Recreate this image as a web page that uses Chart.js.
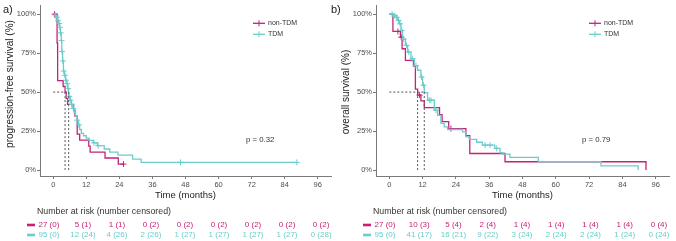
<!DOCTYPE html>
<html><head><meta charset="utf-8">
<script src="https://cdn.jsdelivr.net/npm/chart.js@4"></script>
<style>
html,body{margin:0;padding:0;background:#fff;width:676px;height:241px;overflow:hidden}
#c1{position:absolute;left:0;top:0}
#c2{position:absolute;left:330px;top:0}
</style></head><body>
<canvas id="c1" width="336" height="241"></canvas>
<canvas id="c2" width="346" height="241"></canvas>
<script>
// ---- shared ----
const xTicks = [0, 12, 24, 36, 48, 60, 72, 84, 96];
const yTicks = [0, 25, 50, 75, 100];
const groupNames = ['non-TDM', 'TDM'];

// ---- a) progression-free survival ----
const pfsNonT = [0, 1.4, 1.6, 3.6, 4.3, 4.7, 5.2, 7.4, 7.9, 8.7, 9.6, 12.9, 13.4, 18.8, 23.6, 25.5];
const pfsNonS = [100, 81.5, 57.4, 53.6, 49.8, 46.0, 42.1, 38.3, 34.5, 23.0, 19.2, 15.3, 11.5, 7.7, 3.8, 3.8];
const pfsNonCensT = [0.5, 25.5];
const pfsNonCensS = [100, 3.8];
const pfsTdmT = [0,0.8,1.2,1.6,2.0,2.3,2.6,2.9,3.1,3.4,3.7,4.1,4.5,4.9,5.3,5.6,6.1,6.6,7.1,7.6,8.1,8.6,9.1,9.6,10.2,11.0,12.0,13.0,14.5,16.0,18.5,20.5,23.5,28.8,31.9,88.4];
const pfsTdmS = [100,99,98,96,94,91.5,88,83,76,70,63.5,60.8,57.6,55.4,52.2,47.3,44.8,42,39.5,37,34.5,32,29,26,23.5,22,20.5,19,17.5,15.6,13.5,11.5,9.6,7,4.9,4.9];
const pfsTdmCensT = [0.9,1.3,1.7,2.1,2.4,2.7,3.0,3.2,3.5,3.8,4.2,4.6,5.0,5.4,5.8,6.2,6.7,7.3,8.7,9.3,14.8,16.3,46.2,88.4];
const pfsTdmCensS = [99,98,96,94,91.5,88,83,76,70,63.5,60.8,57.6,55.4,52.2,47.3,44.8,42,39.5,32,29,17.5,15.6,4.9,4.9];
const pfsMedians = [4.3, 5.6];
const pfsNonRisk = [27, 5, 1, 0, 0, 0, 0, 0, 0];
const pfsNonCens = [0, 1, 1, 2, 2, 2, 2, 2, 2];
const pfsTdmRisk = [95, 12, 4, 2, 1, 1, 1, 1, 0];
const pfsTdmCens = [0, 24, 26, 26, 27, 27, 27, 27, 28];
const pfsP = 'p = 0.32';

// ---- b) overall survival ----
const osNonT = [0, 1.3, 4.0, 4.6, 5.8, 8.7, 9.4, 10.2, 11.4, 12.6, 18.1, 19.0, 21.4, 27.6, 29.0, 41.7, 92.5];
const osNonS = [100, 88.9, 85.2, 77.8, 70.4, 66.7, 51.9, 48.1, 44.4, 40.0, 35.5, 31.0, 26.6, 22.1, 10.6, 5.3, 0];
const osNonCensT = [3.1, 4.3, 10.9, 22.2];
const osNonCensS = [88.9, 85.2, 48.1, 26.6];
const osTdmT = [0,1.6,2.4,3.0,3.6,4.2,4.8,5.8,6.6,7.8,9.0,10.2,11.4,12.0,12.6,13.8,16.2,17.4,18.6,19.8,21.0,26.4,27.6,28.8,31.5,33.5,38.0,39.9,41.0,43.5,53.7,76.3,89.7];
const osTdmS = [100,99,98,96,93.8,89.6,84,80,75.7,71.5,67,64,59.7,54.4,49.7,44.8,38.4,35,29.9,27.7,26,24.5,21.3,19.6,17.8,16,13.9,11,10.2,8.1,5.3,2.6,0];
const osTdmCensT = [1.0,2.0,2.7,3.3,3.9,4.5,5.2,6.2,7.0,8.3,9.6,11.6,12.3,14.4,15.0,16.8,34.5,36.3,38.7];
const osTdmCensS = [100,99,98,96,93.8,89.6,84,80,75.7,71.5,67,59.7,54.4,44.8,44.8,38.4,16,16,13.9];
const osMedians = [10.2, 12.6];
const osNonRisk = [27, 10, 5, 2, 1, 1, 1, 1, 0];
const osNonCens = [0, 3, 4, 4, 4, 4, 4, 4, 4];
const osTdmRisk = [95, 41, 16, 9, 3, 2, 2, 1, 0];
const osTdmCens = [0, 17, 21, 22, 24, 24, 24, 24, 24];
const osP = 'p = 0.79';

// ---- styling ----
const MG = '#c8207a';
const CY = '#6ccccc';
const AXC = '#7a7a7a';
const TXC = '#4d4d4d';
const FAM = '"Liberation Sans", Arial, sans-serif';
const X_MIN = -4.8, X_MAX = 100.8, Y_MIN = -3.84, Y_MAX = 105.56;

const zip = (a, b) => a.map((v, i) => ({x: v, y: b[i]}));

function makePanel(id, p) {
  const annot = {
    id: 'annot',
    afterDraw(chart) {
      const {ctx, chartArea: ca, scales: {x, y}} = chart;
      ctx.save();
      // median lines
      ctx.strokeStyle = '#555';
      ctx.lineWidth = 1;
      ctx.setLineDash([2, 2]);
      const y50 = y.getPixelForValue(50), y0 = y.getPixelForValue(0);
      ctx.beginPath();
      ctx.moveTo(x.getPixelForValue(0), y50);
      ctx.lineTo(x.getPixelForValue(Math.max(...p.medians)), y50);
      p.medians.forEach(m => {
        const xm = x.getPixelForValue(m);
        ctx.moveTo(xm, y50); ctx.lineTo(xm, y0);
      });
      ctx.stroke();
      ctx.setLineDash([]);
      // legend
      const lx = ca.left + 213;
      [[MG, 23.3], [CY, 34.3]].forEach(([col, ly], i) => {
        ctx.strokeStyle = col; ctx.lineWidth = 1.3;
        ctx.beginPath(); ctx.moveTo(lx, ly); ctx.lineTo(lx + 12, ly); ctx.stroke();
        ctx.lineWidth = 1;
        ctx.beginPath(); ctx.moveTo(lx + 6, ly - 3); ctx.lineTo(lx + 6, ly + 3); ctx.stroke();
        ctx.fillStyle = '#333';
        ctx.font = '7px ' + FAM;
        ctx.textAlign = 'left'; ctx.textBaseline = 'middle';
        ctx.fillText(groupNames[i], lx + 15, ly);
      });
      // p value
      ctx.fillStyle = '#333';
      ctx.font = '7.8px ' + FAM;
      ctx.fillText(p.pText, ca.left + 206, 139.5);
      // panel label
      ctx.fillStyle = '#222';
      ctx.font = '11px ' + FAM;
      ctx.textBaseline = 'middle';
      ctx.fillText(p.label, p.labelX, 10);
      // y title
      ctx.save();
      ctx.translate(ca.left - 30, p.yTitleY);
      ctx.rotate(-Math.PI / 2);
      ctx.textAlign = 'center';
      ctx.font = '10px ' + FAM;
      ctx.fillStyle = '#222';
      ctx.fillText(p.yTitle, 0, 0);
      ctx.restore();
      // x title
      ctx.textAlign = 'center';
      ctx.font = '9.5px ' + FAM;
      ctx.fillStyle = '#222';
      ctx.fillText('Time (months)', (ca.left + ca.right) / 2, 195.5);
      // risk table
      ctx.textAlign = 'left';
      ctx.font = '8.8px ' + FAM;
      ctx.fillStyle = '#333';
      ctx.fillText('Number at risk (number censored)', ca.left - 3, 212);
      const tL = ca.left - 4.7, tR = ca.right + 3.7;
      const tx = t => tL + (t - X_MIN) / (X_MAX - X_MIN) * (tR - tL);
      const rows = [[MG, p.nonRisk, p.nonCens, 225], [CY, p.tdmRisk, p.tdmCens, 235]];
      rows.forEach(([col, risk, cens, ry]) => {
        ctx.fillStyle = col;
        ctx.fillRect(ca.left - 13, ry - 1.3, 8, 2.6);
        ctx.font = '8px ' + FAM;
        ctx.textAlign = 'center';
        xTicks.forEach((t, i) => {
          ctx.fillText(risk[i] + ' (' + cens[i] + ')', tx(t), ry);
        });
      });
      ctx.restore();
    }
  };

  const lineDs = (label, data, col) => ({
    label, data, borderColor: col, backgroundColor: col, stepped: 'before',
    pointRadius: 0, borderWidth: 1.3, fill: false
  });
  const censDs = (data, col) => ({
    data, borderColor: col, backgroundColor: col, showLine: false,
    pointStyle: 'cross', pointRadius: 3, borderWidth: 1
  });

  new Chart(document.getElementById(id), {
    type: 'line',
    data: {
      datasets: [
        censDs(zip(p.tdmCT, p.tdmCS), CY),
        lineDs(groupNames[1], zip(p.tdmT, p.tdmS), CY),
        censDs(zip(p.nonCT, p.nonCS), MG),
        lineDs(groupNames[0], zip(p.nonT, p.nonS), MG)
      ]
    },
    options: {
      responsive: false,
      animation: false,
      events: [],
      layout: {padding: {left: p.padL, right: p.padR, top: 5, bottom: 35}},
      plugins: {legend: {display: false}, tooltip: {enabled: false}},
      scales: {
        x: {
          type: 'linear', min: X_MIN, max: X_MAX,
          afterBuildTicks: s => { s.ticks = xTicks.map(v => ({value: v})); },
          afterFit: s => { s.height = 30; },
          grid: {display: true, drawOnChartArea: false, drawTicks: true, tickLength: 3, color: AXC},
          border: {display: true, color: AXC, width: 1},
          ticks: {font: {size: 7.5, family: FAM}, color: TXC, padding: 1, maxRotation: 0, autoSkip: false}
        },
        y: {
          type: 'linear', min: Y_MIN, max: Y_MAX,
          afterBuildTicks: s => { s.ticks = yTicks.map(v => ({value: v})); },
          afterFit: s => { s.width = 40; },
          grid: {display: true, drawOnChartArea: false, drawTicks: true, tickLength: 3, color: AXC},
          border: {display: true, color: AXC, width: 1},
          ticks: {font: {size: 7.5, family: FAM}, color: TXC, padding: 1, callback: v => v + '%'}
        }
      }
    },
    plugins: [annot]
  });
}

makePanel('c1', {
  nonT: pfsNonT, nonS: pfsNonS, nonCT: pfsNonCensT, nonCS: pfsNonCensS,
  tdmT: pfsTdmT, tdmS: pfsTdmS, tdmCT: pfsTdmCensT, tdmCS: pfsTdmCensS,
  medians: pfsMedians, nonRisk: pfsNonRisk, nonCens: pfsNonCens, tdmRisk: pfsTdmRisk, tdmCens: pfsTdmCens,
  pText: pfsP, label: 'a)', labelX: 3, yTitle: 'progression-free survival (%)', yTitleY: 84,
  padL: 0, padR: 3
});
makePanel('c2', {
  nonT: osNonT, nonS: osNonS, nonCT: osNonCensT, nonCS: osNonCensS,
  tdmT: osTdmT, tdmS: osTdmS, tdmCT: osTdmCensT, tdmCS: osTdmCensS,
  medians: osMedians, nonRisk: osNonRisk, nonCens: osNonCens, tdmRisk: osTdmRisk, tdmCens: osTdmCens,
  pText: osP, label: 'b)', labelX: 1, yTitle: 'overall survival (%)', yTitleY: 92,
  padL: 6, padR: 7
});
</script>
</body></html>
